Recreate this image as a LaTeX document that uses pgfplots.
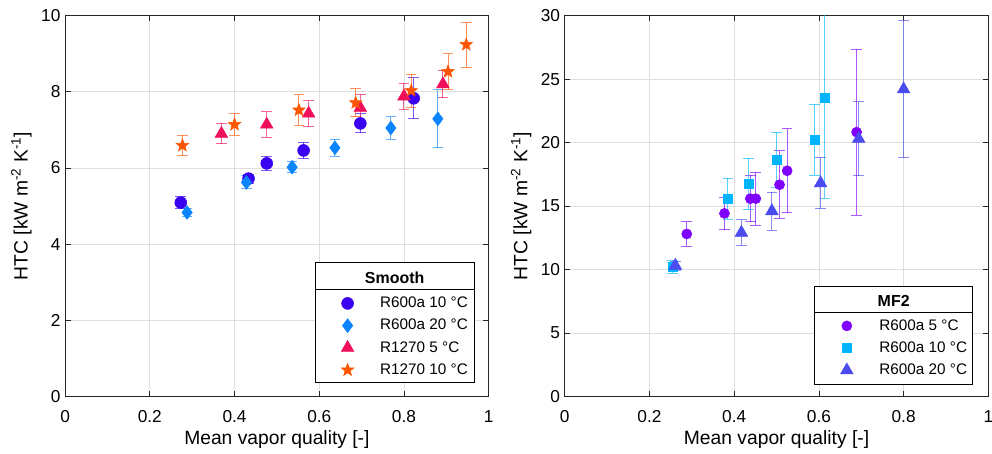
\documentclass[border=0pt]{standalone}
\usepackage{fontspec}
\setmainfont{Liberation Sans}
\usepackage{pgfplots}
\pgfplotsset{compat=1.18}
\usetikzlibrary{plotmarks}

\definecolor{cA}{RGB}{58,0,240}
\definecolor{cB}{RGB}{10,133,255}
\definecolor{cC}{RGB}{240,16,90}
\definecolor{cD}{RGB}{255,85,0}
\definecolor{cE}{RGB}{128,0,255}
\definecolor{cF}{RGB}{0,180,255}
\definecolor{cG}{RGB}{75,75,240}

\pgfdeclareplotmark{fstar}{%
 \pgfpathmoveto{\pgfpointpolar{90}{\pgfplotmarksize}}%
 \pgfpathlineto{\pgfpointpolar{126}{0.42\pgfplotmarksize}}%
 \pgfpathlineto{\pgfpointpolar{162}{\pgfplotmarksize}}%
 \pgfpathlineto{\pgfpointpolar{198}{0.42\pgfplotmarksize}}%
 \pgfpathlineto{\pgfpointpolar{234}{\pgfplotmarksize}}%
 \pgfpathlineto{\pgfpointpolar{270}{0.42\pgfplotmarksize}}%
 \pgfpathlineto{\pgfpointpolar{306}{\pgfplotmarksize}}%
 \pgfpathlineto{\pgfpointpolar{342}{0.42\pgfplotmarksize}}%
 \pgfpathlineto{\pgfpointpolar{18}{\pgfplotmarksize}}%
 \pgfpathlineto{\pgfpointpolar{54}{0.42\pgfplotmarksize}}%
 \pgfpathclose
 \pgfusepathqfillstroke}

\pgfplotstableread{
x y e
0.273 5.09 0.15
0.433 5.72 0.12
0.476 6.12 0.19
0.563 6.46 0.22
0.697 7.17 0.25
0.823 7.83 0.54
}\smA
\pgfplotstableread{
x y e
0.288 4.83 0.10
0.428 5.62 0.17
0.536 6.02 0.15
0.637 6.53 0.22
0.769 7.05 0.29
0.880 7.29 0.76
}\smB
\pgfplotstableread{
x y e
0.369 6.90 0.27
0.476 7.14 0.33
0.575 7.43 0.34
0.697 7.58 0.35
0.800 7.88 0.34
0.892 8.20 0.35
}\smC
\pgfplotstableread{
x y e
0.277 6.59 0.27
0.400 7.14 0.28
0.552 7.52 0.40
0.686 7.71 0.37
0.817 8.03 0.43
0.904 8.53 0.47
0.947 9.24 0.59
}\smD
\pgfplotstableread{
x y e
0.288 12.80 0.98
0.377 14.42 1.27
0.438 15.58 1.83
0.451 15.58 2.10
0.507 16.68 2.66
0.525 17.78 3.30
0.689 20.82 6.55
}\mfA
\pgfplotstableread{
x y e
0.255 10.20 0.50
0.385 15.58 1.62
0.434 16.76 2.00
0.500 18.64 2.17
0.590 20.21 2.80
0.614 23.51 7.88
}\mfB
\pgfplotstableread{
x y e
0.261 10.30 0.35
0.417 12.90 1.00
0.489 14.60 1.50
0.604 16.80 2.00
0.694 20.30 2.92
0.800 24.20 5.40
}\mfC

\pgfplotsset{
  myax/.style={
    scale only axis, width=318.75pt, height=286.5pt,
    xmin=0, xmax=1, xtick={0,0.2,0.4,0.6,0.8,1},
    grid=major, major grid style={black!13, line width=0.5pt},
    axis line style={black!85, line width=0.6pt},
    tick style={black!85, line width=0.6pt},
    tick label style={font=\fontsize{13}{15}\selectfont, /pgf/number format/assume math mode=true},
    label style={font=\fontsize{14.5}{17}\selectfont},
    xlabel={Mean vapor quality [-]},
    ylabel={HTC [kW m\textsuperscript{-2} K\textsuperscript{-1}]},
    xlabel style={at={(axis description cs:0.5,-0.113)}, anchor=center},
    ylabel style={at={(axis description cs:-0.103,0.5)}, anchor=center},
    xticklabel style={yshift=-7pt},
    legend cell align=left,
    legend image code/.code={\draw[##1] plot coordinates {(0pt,0pt)}; \path (-12pt,0pt) (12pt,0pt);},
    legend style={draw=none, fill=none, inner sep=0pt, column sep=12.3pt, row sep=0pt,
      font=\fontsize{11.5}{13}\selectfont, nodes={inner sep=0pt, minimum height=16.7pt}},
  },
  ser/.style n args={3}{only marks, mark=#2, mark size=#3, color=#1,
    mark options={fill=#1, draw=#1, solid},
    error bars/.cd, y dir=both, y explicit,
    error bar style={#1, opacity=0.65, line width=0.75pt},
    error mark options={rotate=90, mark size=4pt, #1, opacity=0.65, line width=0.75pt}},
}

\begin{document}
\begin{tikzpicture}
\useasboundingbox (-49pt,-43pt) rectangle (697.5pt,298.3pt);
\begin{axis}[myax, at={(0pt,0pt)}, anchor=south west,
  ymin=0, ymax=10, ytick={0,2,4,6,8,10},
  legend style={at={(rel axis cs:0.628,0.274)}, anchor=north west}]
\addplot[ser={cA}{*}{4.5pt}] table[x=x,y=y,y error=e]{\smA};
\addlegendentry{R600a 10 °C}
\addplot[ser={cB}{diamond*}{5.2pt}] table[x=x,y=y,y error=e]{\smB};
\addlegendentry{R600a 20 °C}
\addplot[ser={cC}{triangle*}{5.5pt}] table[x=x,y=y,y error=e]{\smC};
\addlegendentry{R1270 5 °C}
\addplot[ser={cD}{fstar}{5pt}] table[x=x,y=y,y error=e]{\smD};
\addlegendentry{R1270 10 °C}
\draw[black, line width=0.6pt, fill=white] (rel axis cs:0.590,0.036) rectangle (rel axis cs:0.966,0.352);
\draw[black, line width=0.6pt] (rel axis cs:0.590,0.280) -- (rel axis cs:0.966,0.280);
\node[font=\fontsize{12}{14}\selectfont\bfseries] at (rel axis cs:0.778,0.3126) {Smooth};
\end{axis}
\begin{axis}[myax, at={(376pt,0pt)}, anchor=south west,
  ymin=0, ymax=30, ytick={0,5,10,15,20,25,30},
  legend style={at={(rel axis cs:0.627,0.215)}, anchor=north west}]
\addplot[ser={cE}{*}{3.8pt}] table[x=x,y=y,y error=e]{\mfA};
\addlegendentry{R600a 5 °C}
\addplot[ser={cF}{square*}{3.4pt}] table[x=x,y=y,y error=e]{\mfB};
\addlegendentry{R600a 10 °C}
\addplot[ser={cG}{triangle*}{5.5pt}] table[x=x,y=y,y error=e]{\mfC};
\addlegendentry{R600a 20 °C}
\draw[black, line width=0.6pt, fill=white] (rel axis cs:0.590,0.031) rectangle (rel axis cs:0.963,0.289);
\draw[black, line width=0.6pt] (rel axis cs:0.590,0.221) -- (rel axis cs:0.963,0.221);
\node[font=\fontsize{12}{14}\selectfont\bfseries] at (rel axis cs:0.7765,0.2513) {MF2};
\end{axis}
\end{tikzpicture}
\end{document}
